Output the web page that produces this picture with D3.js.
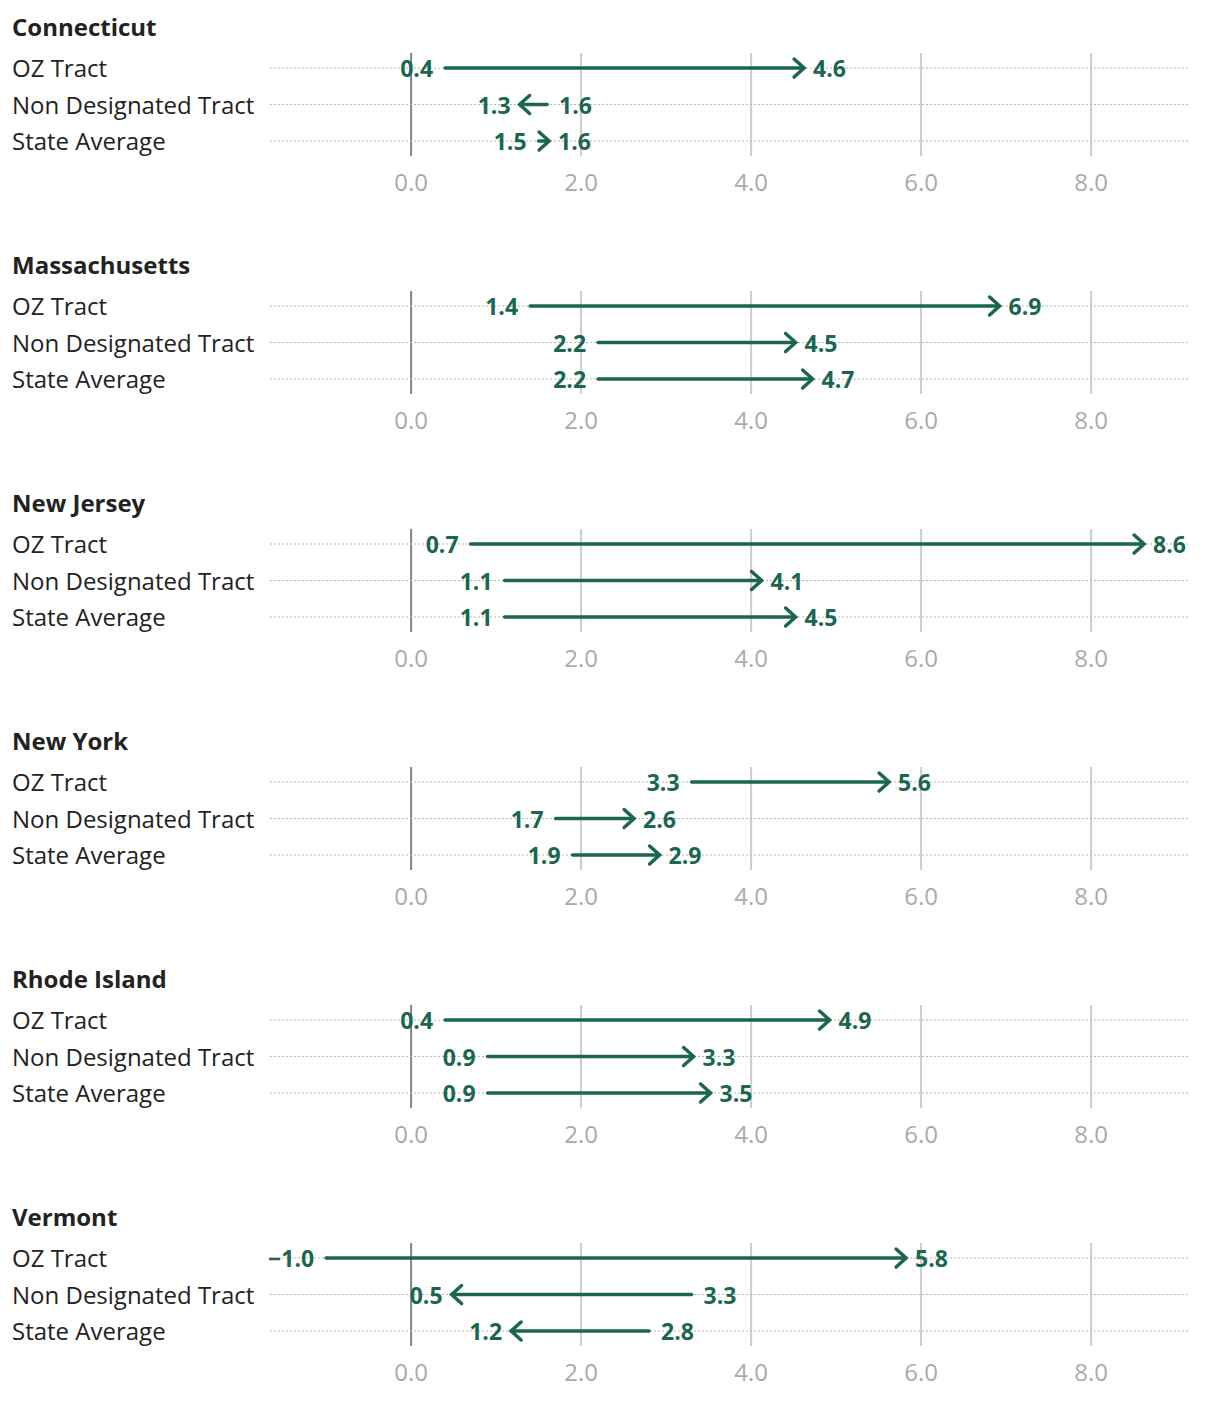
<!DOCTYPE html>
<html><head><meta charset="utf-8">
<script src="https://cdn.jsdelivr.net/npm/d3@7"></script>
<style>
body{margin:0;background:#fff;font-family:"Open Sans",sans-serif;}
</style></head>
<body><svg id="chart" width="1220" height="1402"></svg>
<script>
const states = ["Connecticut","Massachusetts","New Jersey","New York","Rhode Island","Vermont"];
const categories = ["OZ Tract","Non Designated Tract","State Average"];
const fromValues = [[0.4,1.6,1.5],[1.4,2.2,2.2],[0.7,1.1,1.1],[3.3,1.7,1.9],[0.4,0.9,0.9],[-1.0,3.3,2.8]];
const toValues   = [[4.6,1.3,1.6],[6.9,4.5,4.7],[8.6,4.1,4.5],[5.6,2.6,2.9],[4.9,3.3,3.5],[5.8,0.5,1.2]];
const tickValues = [0,2,4,6,8];

const green = "#1b6650";
const svg = d3.select("#chart");
const x = d3.scaleLinear().domain([-1.66, 9.14]).range([270, 1188]);
const fmt = d3.format(".1f");
const panelH = 238, top0 = 0;
const y = d3.scalePoint().domain(categories).range([68, 141]);

states.forEach((st, si) => {
  const g = svg.append("g").attr("transform", `translate(0,${top0 + si*panelH})`);
  g.append("text").attr("x", 12).attr("y", 27).attr("dy", "0.38em")
    .attr("font-size", 24).attr("font-weight", 700).attr("fill", "#222").text(st);
  // grid
  g.selectAll(".grid").data(tickValues).join("line")
    .attr("x1", d => x(d)).attr("x2", d => x(d)).attr("y1", 53).attr("y2", 156)
    .attr("stroke", d => d === 0 ? "#7d868b" : "#cccccc").attr("stroke-width", 2);
  // row dotted
  g.selectAll(".row").data(categories).join("line")
    .attr("x1", x.range()[0]).attr("x2", x.range()[1])
    .attr("y1", d => y(d)).attr("y2", d => y(d))
    .attr("stroke", "#b5b5b5").attr("stroke-width", 1.2).attr("stroke-dasharray", "2,2");
  // row labels
  g.selectAll(".lab").data(categories).join("text")
    .attr("x", 12).attr("y", d => y(d)).attr("dy", "0.38em")
    .attr("font-size", 24).attr("fill", "#222").text(d => d);
  // ticks
  g.selectAll(".tick").data(tickValues).join("text")
    .attr("x", d => x(d)).attr("y", 182).attr("dy", "0.38em").attr("text-anchor", "middle")
    .attr("font-size", 24).attr("font-weight", 400).attr("fill", "#aaaaaa").text(d => fmt(d));
  // arrows
  categories.forEach((c, ci) => {
    const a = fromValues[si][ci], b = toValues[si][ci];
    const xa = x(a), xb = x(b), yy = y(c);
    const dir = b >= a ? 1 : -1;
    g.append("line").attr("x1", xa).attr("x2", xb + dir*1).attr("y1", yy).attr("y2", yy)
      .attr("stroke", green).attr("stroke-width", 3.5).attr("stroke-linecap", "round");
    const hw = 10, hh = 9;
    g.append("path")
      .attr("d", `M${xb + dir*2 - dir*hw},${yy - hh}L${xb + dir*2},${yy}L${xb + dir*2 - dir*hw},${yy + hh}`)
      .attr("fill", "none").attr("stroke", green).attr("stroke-width", 3.5)
      .attr("stroke-linecap", "round").attr("stroke-linejoin", "miter");
    g.append("text").attr("x", xa - dir*12).attr("y", yy).attr("dy", "0.4em")
      .attr("text-anchor", dir > 0 ? "end" : "start")
      .attr("font-size", 23).attr("font-weight", 700).attr("fill", green).text(fmt(a));
    g.append("text").attr("x", xb + dir*11).attr("y", yy).attr("dy", "0.4em")
      .attr("text-anchor", dir > 0 ? "start" : "end")
      .attr("font-size", 23).attr("font-weight", 700).attr("fill", green).text(fmt(b));
  });
});
</script></body></html>
